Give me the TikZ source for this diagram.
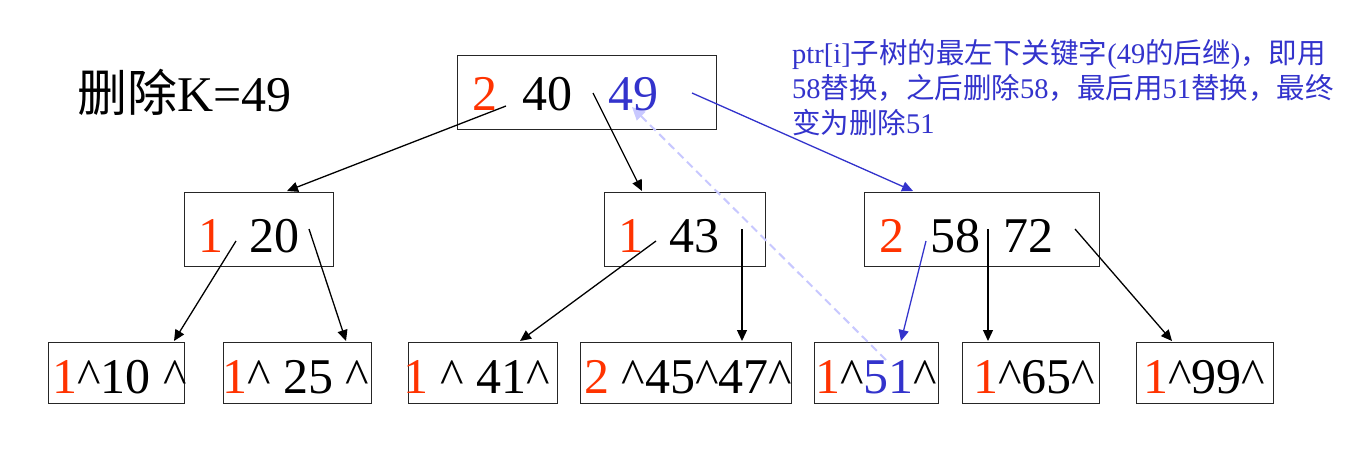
\documentclass[tikz,border=0pt]{standalone}
\usepackage{fontspec}
\setmainfont{Liberation Serif}
\newfontfamily\tms{Liberation Serif}
\newfontfamily\cjk{Noto Sans CJK SC}
\usetikzlibrary{arrows.meta,calc}
\definecolor{kred}{HTML}{FF3300}
\definecolor{kblue}{HTML}{3333CC}
\definecolor{kdash}{HTML}{C8C8FF}
\newcommand\rd[1]{\textcolor{kred}{#1}}
\newcommand\bl[1]{\textcolor{kblue}{#1}}
\newcommand\kc{\textasciicircum}
\tikzset{
  box/.style={draw=black!85, line width=1.4pt, inner sep=0pt, anchor=north west},
  keys/.style={inner sep=0pt, anchor=base west, font=\tms\fontsize{50}{60}\selectfont},
  ann/.style={inner sep=0pt, anchor=base west, text=kblue, font=\tms\fontsize{28.5}{35}\selectfont},
  arr/.style={line width=1.3pt, -{Triangle[length=11pt,width=10pt]}},
  barr/.style={arr, draw=kblue},
  darr/.style={line width=2pt, draw=kdash, dash pattern=on 8pt off 5pt, -{Triangle[length=13pt,width=12pt,fill=kdash]}}
}
\begin{document}
\begin{tikzpicture}[x=1pt,y=-1pt]
\useasboundingbox[fill=white] (0,0) rectangle (1346,448);

% title
\node[inner sep=0pt, anchor=base west, font=\tms\fontsize{50}{60}\selectfont] (title) at (77,111) {{\cjk 删除}K=49};

% annotation
\node[ann] (ann1) at (792,63) {ptr[i]{\cjk 子树的最左下关键字}(49{\cjk 的后继}){\cjk ，即用}};
\node[ann] (ann2) at (792,98) {58{\cjk 替换，之后删除}58{\cjk ，最后用}51{\cjk 替换，最终}};
\node[ann] (ann3) at (792,133) {{\cjk 变为删除}51};

% boxes
\node[box, minimum width=259, minimum height=74] (root) at (457,55) {};
\node[box, minimum width=149, minimum height=74] (b20) at (184,192) {};
\node[box, minimum width=161, minimum height=74] (b43) at (604,192) {};
\node[box, minimum width=235, minimum height=74] (b5872) at (864,192) {};
\node[box, minimum width=136, minimum height=61] (l1) at (48,342) {};
\node[box, minimum width=148, minimum height=61] (l2) at (223,342) {};
\node[box, minimum width=149, minimum height=61] (l3) at (408,342) {};
\node[box, minimum width=211, minimum height=61] (l4) at (580,342) {};
\node[box, minimum width=124, minimum height=61] (l5) at (814,342) {};
\node[box, minimum width=137, minimum height=61] (l6) at (962,342) {};
\node[box, minimum width=137, minimum height=61] (l7) at (1136,342) {};

% dashed arrow (behind text)
\coordinate (sd) at ($(l5.north west)+(72,18)$);
\coordinate (ed) at ($(root.north west)+(175,52)$);
\draw[darr] (sd) -- (ed);

% key texts
\node[keys] (troot) at (472,110) {\rd{2}\hspace{25pt}40\hspace{36pt}\bl{49}};
\node[keys] (t20) at (198,252) {\rd{1}\hspace{26pt}20};
\node[keys] (t43) at (618,252) {\rd{1}\hspace{26pt}43};
\node[keys] (t5872) at (879,252) {\rd{2}\hspace{26pt}58\hspace{23pt}72};
\node[keys] (tl1) at (52,393) {\rd{1}\kc10 \kc};
\node[keys] (tl2) at (222,393) {\rd{1}\kc{} 25 \kc};
\node[keys] (tl3) at (403,393) {\rd{1} \kc{} 41\kc};
\node[keys] (tl4) at (584,393) {\rd{2} \kc45\kc47\kc};
\node[keys] (tl5) at (815,393) {\rd{1}\kc\bl{51}\kc};
\node[keys] (tl6) at (973,393) {\rd{1}\kc65\kc};
\node[keys] (tl7) at (1143,393) {\rd{1}\kc99\kc};

% connector start points (inside parent boxes)
\coordinate (sa1) at ($(root.north west)+(49,51)$);
\coordinate (sa2) at ($(root.north west)+(136,38)$);
\coordinate (sa3) at ($(root.north west)+(235,38)$);
\coordinate (sb1) at ($(b20.north west)+(52,49)$);
\coordinate (sb2) at ($(b20.north west)+(125,37)$);
\coordinate (sc1) at ($(b43.north west)+(52,49)$);
\coordinate (sc2) at ($(b43.north west)+(138,37)$);
\coordinate (sd1) at ($(b5872.north west)+(62,49)$);
\coordinate (sd2) at ($(b5872.north west)+(124,37)$);
\coordinate (sd3) at ($(b5872.north west)+(211,37)$);
% connector end points (on child box tops)
\coordinate (ea1) at ($(b20.north west)+(103,-1)$);
\coordinate (ea2) at ($(b43.north west)+(38,-1)$);
\coordinate (ea3) at ($(b5872.north west)+(49,-1)$);
\coordinate (eb1) at ($(l1.north west)+(126,-1)$);
\coordinate (eb2) at ($(l2.north west)+(123,-1)$);
\coordinate (ec1) at ($(l3.north west)+(112,-1)$);
\coordinate (ec2) at ($(l4.north west)+(162,-1)$);
\coordinate (ed1) at ($(l5.north west)+(87,-1)$);
\coordinate (ed2) at ($(l6.north west)+(26,-1)$);
\coordinate (ed3) at ($(l7.north west)+(36,-1)$);

\draw[arr] (sa1) -- (ea1);
\draw[arr] (sa2) -- (ea2);
\draw[barr] (sa3) -- (ea3);
\draw[arr] (sb1) -- (eb1);
\draw[arr] (sb2) -- (eb2);
\draw[arr] (sc1) -- (ec1);
\draw[arr] (sc2) -- (ec2);
\draw[barr] (sd1) -- (ed1);
\draw[arr] (sd2) -- (ed2);
\draw[arr] (sd3) -- (ed3);
\end{tikzpicture}
\end{document}
